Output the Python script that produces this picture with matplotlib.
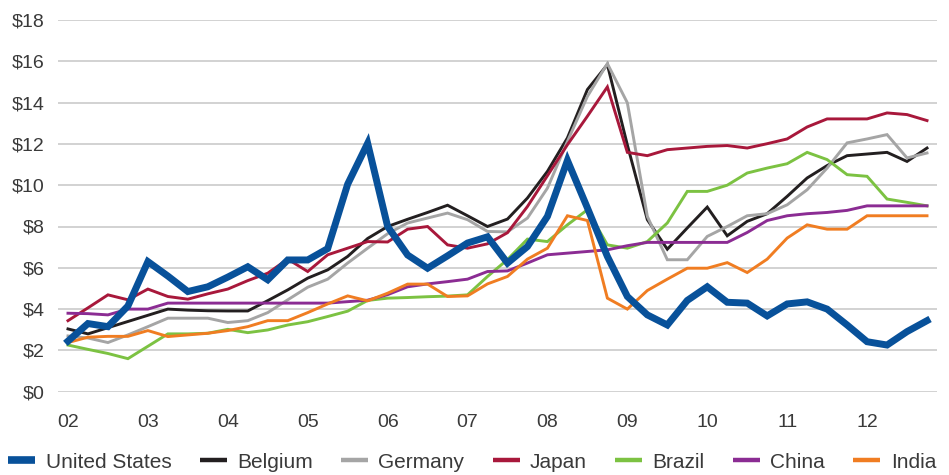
import matplotlib
matplotlib.use("Agg")
import matplotlib.pyplot as plt
from matplotlib.lines import Line2D
import numpy as np

plt.rcParams['font.family'] = ['Liberation Sans', 'DejaVu Sans']

year_labels = ["02", "03", "04", "05", "06", "07", "08", "09", "10", "11", "12"]

united_states = [2.45, 3.3, 3.15, 4.15, 6.3, 5.6, 4.85, 5.08, 5.55, 6.05, 5.42, 6.38, 6.38, 6.93, 10.05, 12.03, 8.0, 6.62, 5.98, 6.58, 7.2, 7.5, 6.23, 7.03, 8.49, 11.2, 8.9, 6.55, 4.61, 3.72, 3.23, 4.42, 5.08, 4.33, 4.29, 3.67, 4.25, 4.35, 4.0, 3.23, 2.42, 2.26, 2.91, 3.44]
belgium = [3.04, 2.8, 3.1, 3.4, 3.7, 4.0, 3.95, 3.92, 3.91, 3.91, 4.41, 4.93, 5.5, 5.9, 6.55, 7.42, 8.0, 8.35, 8.68, 9.03, 8.52, 8.0, 8.36, 9.38, 10.67, 12.29, 14.63, 15.84, 11.95, 8.33, 6.9, 7.93, 8.94, 7.55, 8.25, 8.62, 9.46, 10.35, 10.95, 11.43, 11.51, 11.59, 11.15, 11.8]
germany = [2.7, 2.6, 2.38, 2.75, 3.15, 3.56, 3.56, 3.56, 3.35, 3.44, 3.83, 4.45, 5.06, 5.45, 6.23, 6.95, 7.65, 8.17, 8.41, 8.65, 8.33, 7.76, 7.74, 8.41, 9.86, 12.12, 14.3, 15.89, 13.99, 8.49, 6.39, 6.39, 7.52, 8.0, 8.52, 8.62, 9.05, 9.78, 10.83, 12.05, 12.24, 12.45, 11.32, 11.56]
japan = [3.44, 4.06, 4.69, 4.45, 4.97, 4.61, 4.48, 4.74, 4.97, 5.38, 5.74, 6.42, 5.82, 6.63, 6.95, 7.27, 7.25, 7.87, 8.0, 7.11, 6.95, 7.16, 7.7, 8.97, 10.46, 11.96, 13.34, 14.76, 11.59, 11.43, 11.72, 11.8, 11.88, 11.92, 11.8, 12.01, 12.24, 12.82, 13.21, 13.21, 13.21, 13.5, 13.42, 13.13]
brazil = [2.26, 2.05, 1.85, 1.6, 2.2, 2.8, 2.8, 2.83, 3.02, 2.86, 2.99, 3.23, 3.39, 3.64, 3.9, 4.42, 4.53, 4.56, 4.6, 4.63, 4.69, 5.58, 6.4, 7.39, 7.27, 8.08, 8.81, 7.11, 6.95, 7.27, 8.17, 9.7, 9.7, 10.0, 10.59, 10.83, 11.04, 11.59, 11.24, 10.51, 10.43, 9.33, 9.17, 9.0]
china = [3.8, 3.78, 3.72, 4.0, 4.0, 4.29, 4.29, 4.29, 4.29, 4.29, 4.29, 4.29, 4.29, 4.29, 4.36, 4.43, 4.7, 5.08, 5.22, 5.33, 5.45, 5.82, 5.85, 6.23, 6.63, 6.71, 6.79, 6.87, 7.07, 7.23, 7.23, 7.23, 7.23, 7.23, 7.71, 8.29, 8.52, 8.62, 8.68, 8.78, 9.0, 9.0, 9.0, 9.0]
india = [2.38, 2.64, 2.68, 2.68, 2.96, 2.67, 2.75, 2.83, 2.96, 3.15, 3.44, 3.44, 3.83, 4.25, 4.64, 4.4, 4.77, 5.21, 5.21, 4.61, 4.64, 5.22, 5.58, 6.42, 6.95, 8.52, 8.29, 4.53, 4.0, 4.9, 5.45, 5.98, 5.98, 6.25, 5.77, 6.42, 7.44, 8.08, 7.87, 7.87, 8.52, 8.52, 8.52, 8.52]

series_names = ["United States", "Belgium", "Germany", "Japan", "Brazil", "China", "India"]
series_values = [united_states, belgium, germany, japan, brazil, china, india]
colors = ["#08519a", "#231f20", "#a5a5a5", "#a8183b", "#7cc242", "#8b2c93", "#f07d22"]
widths = [5.0, 2.1, 2.1, 2.1, 2.1, 2.1, 2.1]
legend_widths = [5.5, 3.2, 3.2, 3.2, 3.2, 3.2, 3.2]

fig = plt.figure(figsize=(9.49, 4.75), dpi=100)
ax = fig.add_axes([58 / 949, 1 - 391.7 / 475, 879 / 949, (391.7 - 20) / 475])

x = np.arange(len(united_states))
for k in range(len(series_names)):
    ax.plot(x, series_values[k], color=colors[k], lw=widths[k],
            solid_joinstyle='miter', zorder=3 if k == 0 else 2)

ax.set_xlim(-0.5, len(united_states) - 0.5)
ax.set_ylim(0, 18)
ax.set_yticks(np.arange(0, 19, 2))
ax.set_yticklabels([f"${v}" for v in range(0, 19, 2)])
ax.set_xticks(np.arange(0, 44, 4))
ax.set_xticklabels(year_labels)
ax.tick_params(length=0, labelsize=14, labelcolor="#3a3a3a")
ax.tick_params(axis='y', pad=9.5)
ax.tick_params(axis='x', pad=16)
for s in ax.spines.values():
    s.set_visible(False)
ax.grid(axis='y', color="#d2d2d2", lw=1.4, zorder=0)
ax.set_axisbelow(True)

leg_handles = [Line2D([0], [0], color=colors[k], lw=legend_widths[k], solid_capstyle='butt')
               for k in range(7)]
fig.legend(leg_handles, series_names, loc='center',
           bbox_to_anchor=(0.4976, 13 / 475), ncol=7, frameon=False,
           fontsize=15, handlelength=1.3, handletextpad=0.5,
           columnspacing=1.35, labelcolor="#3a3a3a", borderpad=0, borderaxespad=0)

fig.savefig("out.png", dpi=100)
